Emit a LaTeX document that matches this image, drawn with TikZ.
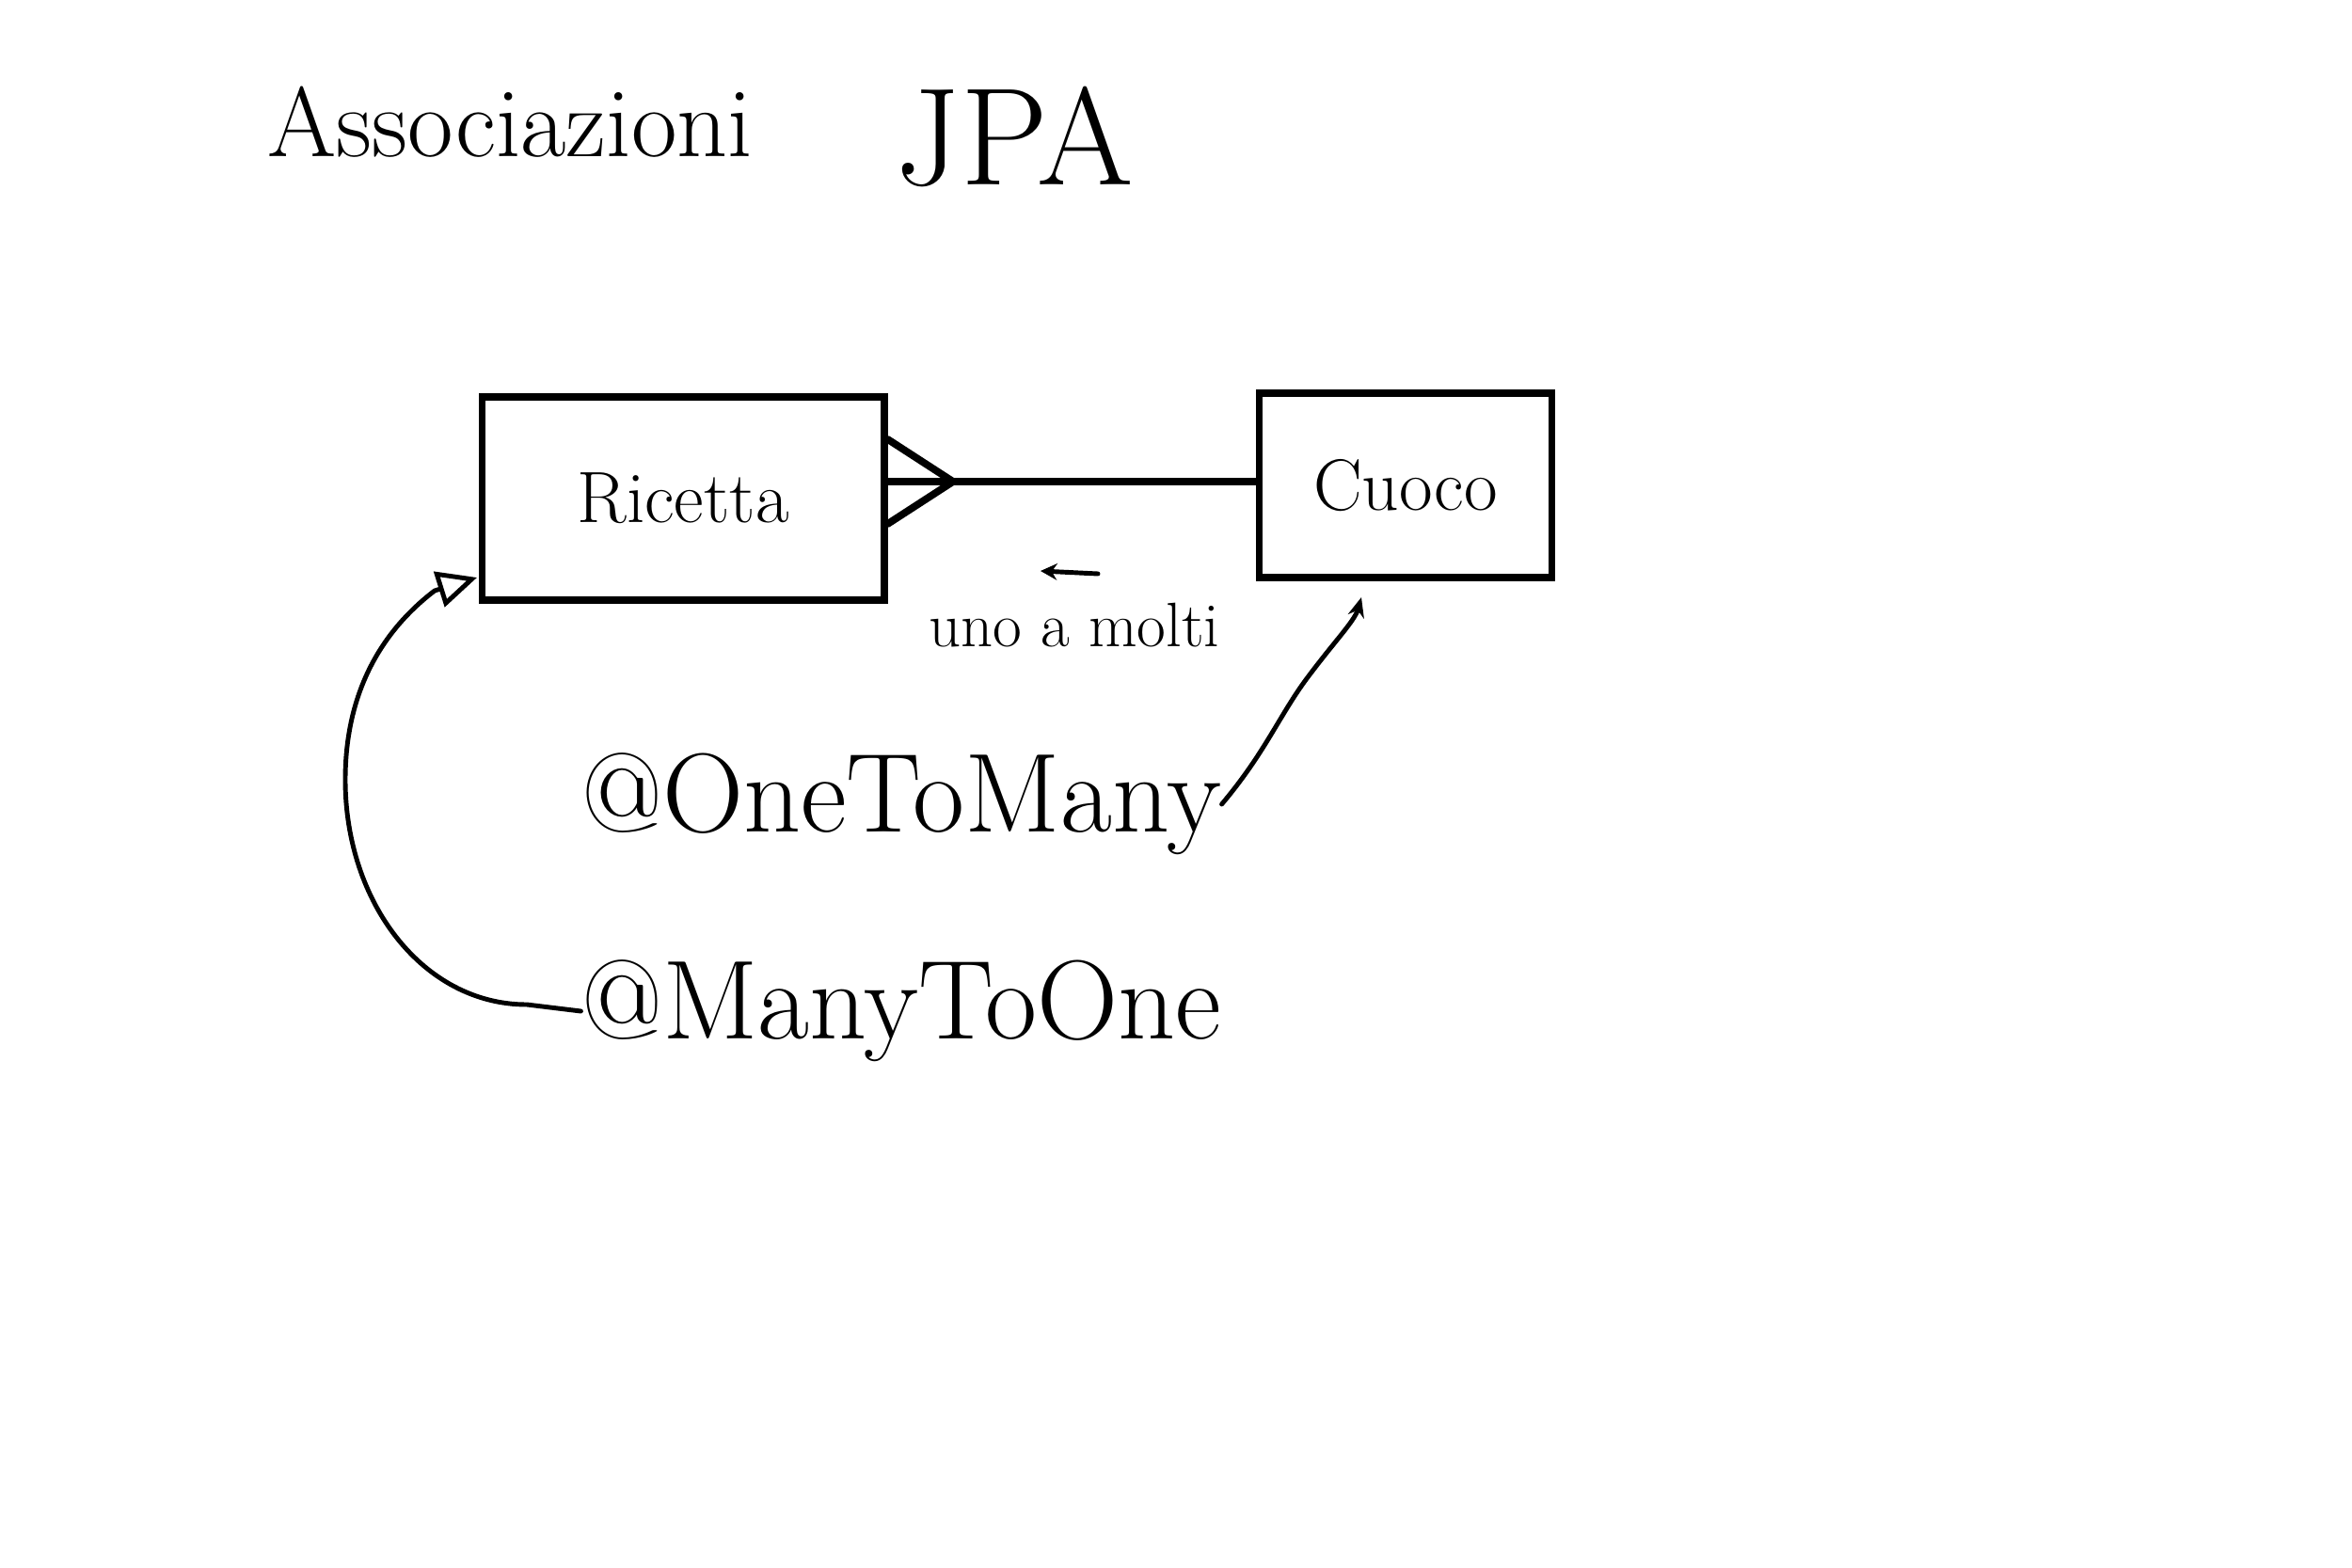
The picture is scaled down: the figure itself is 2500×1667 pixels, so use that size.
\documentclass[tikz,border=0pt]{standalone}
\usetikzlibrary{arrows.meta}
\begin{document}
\begin{tikzpicture}[x=0.01cm,y=-0.01cm,
  entity/.style={draw,line width=2.2pt,rectangle,font=\fontsize{22}{26}\selectfont},
  hand/.style={line width=2.2pt,line cap=round,line join=round},
  thin hand/.style={line width=1.4pt,line cap=round,line join=round},
  annot/.style={font=\fontsize{34}{40}\selectfont,inner sep=0pt}]
\useasboundingbox (0,0) rectangle (2500,1667);
% title
\node[font=\fontsize{30}{36}\selectfont,inner sep=0pt] (t1) at (542,130) {Associazioni};
\node[font=\fontsize{42}{48}\selectfont,inner sep=0pt] (t2) at (1078,145) {JPA};
% entities
\node[entity,minimum width=4.27cm,minimum height=2.16cm] (ric) at (726,530) {Ricetta};
\node[entity,minimum width=3.11cm,minimum height=1.96cm] (cuo) at (1494,516) {Cuoco};
% relation with crow's foot at Ricetta
\coordinate (cf) at (1013,512);
\draw[hand] (ric.east |- cf) -- (cf -| cuo.west);
\draw[hand] ([yshift=0.45cm]ric.east |- cf) -- (cf) -- ([yshift=-0.45cm]ric.east |- cf);
% label uno a molti with small arrow
\node[font=\fontsize{19}{22}\selectfont,inner sep=0pt] (uam) at (1142,665) {uno a molti};
\coordinate (sa1) at (1167,610);
\coordinate (sa2) at (1106,607);
\draw[thin hand,-{Stealth[length=5pt,width=5pt]}] (sa1) -- (sa2);
% annotations
\node[annot] (otm) at (958,855) {@OneToMany};
\node[annot] (mto) at (958,1075) {@ManyToOne};
% arrow from @OneToMany to Cuoco
\coordinate (cb) at (1447,635);
\draw[thin hand,-{Stealth[length=6pt,width=5pt]}] (otm.east) .. controls (1345,800) and (1360,760) .. (1390,720) .. controls (1420,680) and (1440,660) .. (cb);
% arrow from @ManyToOne to Ricetta
\coordinate (rb) at (507,614);
\draw[thin hand,-{Triangle[open,length=12pt,width=11pt]}] (mto.west) -- (560,1068)
  .. controls (450,1068) and (367,960) .. (367,829)
  .. controls (367,720) and (420,660) .. (462,628) -- (rb);
\end{tikzpicture}
\end{document}
